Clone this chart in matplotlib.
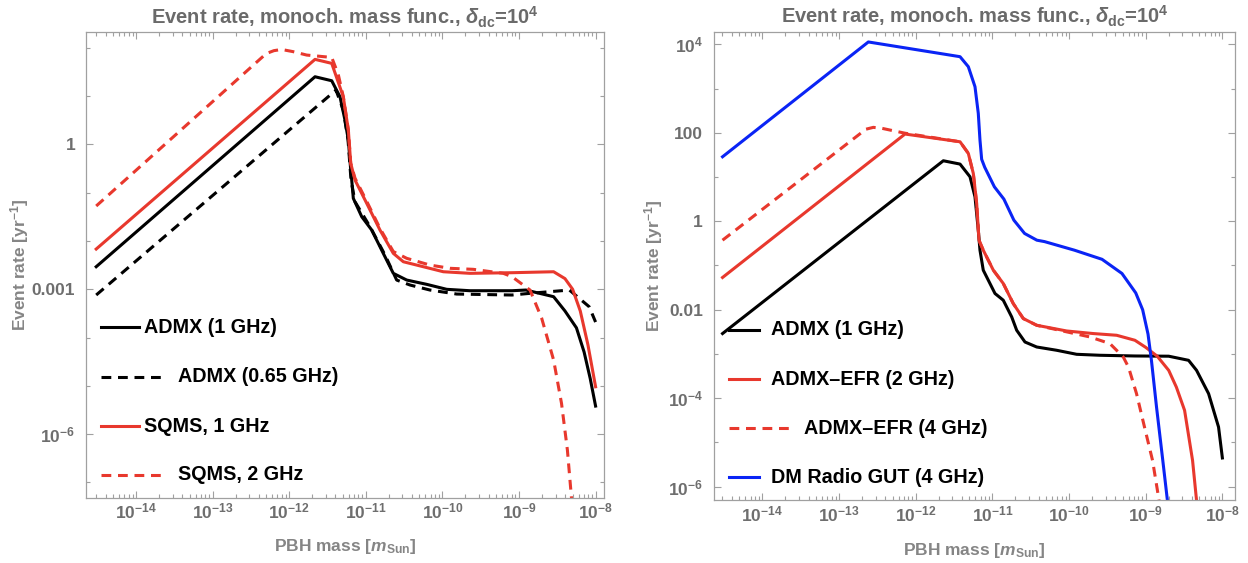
import numpy as np
import matplotlib
matplotlib.use('Agg')
import matplotlib.pyplot as plt
from matplotlib.ticker import FixedLocator, FixedFormatter, NullFormatter, LogLocator
from matplotlib.lines import Line2D

# ---------------- data (log10 of PBH mass [m_Sun] and log10 of event rate [1/yr]) ----------------
# Left panel
L_admx1_logm = [-14.52, -11.663, -11.445, -11.337, -11.272, -11.228, -11.197, -11.184, -11.163, -11.053,
                -10.923, -10.772, -10.641, -10.466, -10.205, -9.944, -9.640, -9.091, -8.910, -8.548,
                -8.40, -8.25, -8.15, -8.07, -8.0]
L_admx1_logr = [-2.534, 1.400, 1.317, 0.985, 0.503, 0.089, -0.532, -0.739, -1.118, -1.499,
                -1.774, -2.257, -2.671, -2.810, -2.899, -3.002, -3.031, -3.031, -3.017, -3.155,
                -3.45, -3.80, -4.30, -4.85, -5.42]

L_admx065_logm = [-14.52, -11.389, -11.294, -11.232, -11.193, -11.141, -10.945, -10.749, -10.597, -10.423,
                  -10.162, -9.813, -9.091, -8.856, -8.342, -8.084, -8.0]
L_admx065_logr = [-3.120, 1.124, 0.710, 0.089, -0.739, -1.188, -1.706, -2.292, -2.810, -2.913,
                  -3.017, -3.100, -3.120, -3.085, -3.017, -3.362, -3.68]

L_sqms1_logm = [-14.52, -11.663, -11.445, -11.294, -11.228, -11.197, -11.141, -10.988, -10.815, -10.641,
                -10.510, -10.250, -9.988, -9.640, -9.091, -8.548, -8.40, -8.30, -8.20, -8.10, -8.0]
L_sqms1_logr = [-2.168, 1.760, 1.677, 0.985, 0.296, -0.393, -0.739, -1.222, -1.774, -2.257,
                -2.431, -2.534, -2.638, -2.671, -2.658, -2.638, -2.78, -3.0, -3.45, -4.15, -5.02]

L_sqms2_logm = [-14.52, -12.30, -12.20, -12.10, -11.95, -11.772, -11.445, -11.36, -11.294, -11.228,
                -11.197, -11.141, -10.988, -10.815, -10.641, -10.466, -10.162, -9.901, -9.597, -9.205,
                -9.091, -8.856, -8.704, -8.548, -8.445, -8.368, -8.316, -8.29]
L_sqms2_logr = [-1.277, 1.88, 1.94, 1.965, 1.92, 1.849, 1.80, 1.45, 0.99, 0.30,
                -0.39, -0.70, -1.18, -1.74, -2.22, -2.36, -2.50, -2.567, -2.588, -2.671,
                -2.741, -3.017, -3.60, -4.466, -5.362, -6.329, -7.298, -7.8]

# Right panel
R_admx1_logm = [-14.52, -11.640, -11.422, -11.292, -11.227, -11.184, -11.162, -11.119, -10.966, -10.858,
                -10.748, -10.683, -10.575, -10.422, -10.162, -9.901, -9.597, -9.141, -8.70, -8.441,
                -8.337, -8.180, -8.050, -8.0]
R_admx1_logr = [-2.538, 1.367, 1.292, 1.005, 0.552, -0.201, -0.654, -1.106, -1.633, -1.785,
                -2.163, -2.464, -2.729, -2.842, -2.916, -3.007, -3.029, -3.045, -3.05, -3.143,
                -3.369, -3.896, -4.651, -5.35]

R_efr2_logm = [-14.52, -12.140, -11.422, -11.314, -11.249, -11.205, -11.175, -11.119, -10.988, -10.858,
               -10.728, -10.597, -10.422, -10.031, -9.685, -9.379, -9.141, -9.0, -8.85, -8.70,
               -8.60, -8.493, -8.389, -8.337, -8.30]
R_efr2_logr = [-1.271, 1.971, 1.796, 1.534, 1.081, 0.403, -0.428, -0.654, -1.106, -1.407,
               -1.860, -2.199, -2.351, -2.480, -2.538, -2.577, -2.690, -2.85, -3.05, -3.37,
               -3.75, -4.274, -5.405, -6.31, -6.9]

R_efr4_logm = [-14.52, -12.65, -12.553, -12.44, -12.335, -12.140, -11.422, -11.314, -11.249, -11.205,
               -11.175, -11.119, -10.988, -10.858, -10.728, -10.597, -10.422, -10.031, -9.728, -9.467,
               -9.293, -9.224, -9.120, -9.016, -8.911, -8.833, -8.80]
R_efr4_logr = [-0.428, 2.08, 2.122, 2.10, 2.061, 1.99, 1.796, 1.534, 1.081, 0.403,
               -0.428, -0.654, -1.106, -1.407, -1.860, -2.199, -2.351, -2.50, -2.615, -2.765,
               -3.068, -3.30, -3.896, -4.651, -5.405, -6.235, -6.6]

R_gut_logm = [-14.52, -12.618, -11.422, -11.314, -11.227, -11.184, -11.162, -11.14, -11.10, -10.974,
              -10.85, -10.72, -10.58, -10.42, -10.32, -9.93, -9.57, -9.31, -9.13, -9.04,
              -8.97, -8.925, -8.859, -8.781, -8.717, -8.69]
R_gut_logr = [1.457, 4.052, 3.719, 3.493, 3.041, 2.439, 1.835, 1.40, 1.22, 0.778,
              0.50, 0.025, -0.276, -0.428, -0.46, -0.654, -0.86, -1.18, -1.62, -2.0,
              -2.55, -3.15, -4.20, -5.35, -6.31, -6.7]

# axis ticks
x_major_exps = [-14, -13, -12, -11, -10, -9, -8]
L_ymajor = [1e-6, 1e-3, 1.0]
L_ymajor_labels = [r'$10^{-6}$', '0.001', '1']
L_yminor = [1e-7, 1e-5, 1e-4, 1e-2, 1e-1, 10.0, 100.0]
R_ymajor = [1e-6, 1e-4, 1e-2, 1.0, 100.0, 1e4]
R_ymajor_labels = [r'$10^{-6}$', r'$10^{-4}$', '0.01', '1', '100', r'$10^{4}$']
R_yminor = [1e-5, 1e-3, 1e-1, 10.0, 1000.0]

L_labels = ['ADMX (1 GHz)', 'ADMX (0.65 GHz)', 'SQMS, 1 GHz', 'SQMS, 2 GHz']
R_labels = ['ADMX (1 GHz)', 'ADMX\u2013EFR (2 GHz)', 'ADMX\u2013EFR (4 GHz)', 'DM Radio GUT (4 GHz)']

TITLE = r'Event rate, monoch. mass func., $\delta_{\mathrm{dc}}$=10$^{4}$'

# ---------------- style ----------------
plt.rcParams['font.family'] = ['Liberation Sans', 'DejaVu Sans']
plt.rcParams['font.weight'] = 'bold'
plt.rcParams['axes.labelweight'] = 'bold'
plt.rcParams['mathtext.fontset'] = 'custom'
plt.rcParams['mathtext.rm'] = 'Liberation Sans:bold'
plt.rcParams['mathtext.it'] = 'Liberation Sans:italic:bold'
plt.rcParams['mathtext.bf'] = 'Liberation Sans:bold'
plt.rcParams['mathtext.sf'] = 'Liberation Sans:bold'

RED = '#e8382d'
BLUE = '#0a24f5'
BLACK = '#000000'
FRAME = '#a0a0a0'
TICKC = '#6e6e6e'
LABC = '#858585'
LW = 2.2
DASH = (0, (3.2, 2.2))

fig = plt.figure(figsize=(12.48, 5.63), dpi=100)
axL = fig.add_axes([0.0691, 0.1160, 0.4147, 0.8266])
axR = fig.add_axes([0.5722, 0.1119, 0.4171, 0.8307])


def style(ax, xlim, ylim, ymaj, ymaj_lab, ymin, ylab_x, xlab_y):
    ax.set_xscale('log')
    ax.set_yscale('log')
    ax.set_xlim(10 ** xlim[0], 10 ** xlim[1])
    ax.set_ylim(10 ** ylim[0], 10 ** ylim[1])
    xm = [10.0 ** e for e in x_major_exps]
    ax.xaxis.set_major_locator(FixedLocator(xm))
    ax.xaxis.set_major_formatter(FixedFormatter([r'$10^{%d}$' % e for e in x_major_exps]))
    ax.xaxis.set_minor_locator(LogLocator(base=10, subs=np.arange(2, 10)))
    ax.xaxis.set_minor_formatter(NullFormatter())
    ax.yaxis.set_major_locator(FixedLocator(ymaj))
    ax.yaxis.set_major_formatter(FixedFormatter(ymaj_lab))
    ax.yaxis.set_minor_locator(FixedLocator(ymin))
    ax.yaxis.set_minor_formatter(NullFormatter())
    ax.tick_params(which='both', direction='in', top=True, right=True, color=FRAME, width=0.8,
                   labelcolor=TICKC, labelsize=12.5)
    ax.tick_params(which='major', length=5)
    ax.tick_params(which='minor', length=3)
    ax.tick_params(axis='x', pad=3)
    ax.tick_params(axis='y', pad=8)
    for s in ax.spines.values():
        s.set_color(FRAME)
        s.set_linewidth(0.9)
    ax.set_ylabel(r'Event rate [yr$^{-1}$]', color=LABC, fontsize=12.5, fontweight='bold', va='center')
    ax.yaxis.set_label_coords(ylab_x, 0.5)
    ax.set_xlabel(r'PBH mass [$m_{\mathrm{Sun}}$]', color=LABC, fontsize=12.5, fontweight='bold', va='center')
    ax.xaxis.set_label_coords(0.5, xlab_y)
    ax.text(0.5, 1.033, TITLE, transform=ax.transAxes, ha='center', va='center',
            color='#6a6a6a', fontsize=14.5, fontweight='bold')


def curve(ax, lm, lr, color, ls='-'):
    ax.plot(10.0 ** np.asarray(lm), 10.0 ** np.asarray(lr), color=color, lw=LW, ls=ls,
            solid_joinstyle='round', dash_capstyle='butt', clip_on=True)


def legend(ax, entries):
    # entries: (color, linestyle, label, y, x_end, x_text)
    for color, ls, lab, y, xe, xt in entries:
        ax.add_line(Line2D([0.028, xe], [y, y], transform=ax.transAxes, color=color, lw=LW, ls=ls,
                           dash_capstyle='butt'))
        ax.text(xt, y, lab, transform=ax.transAxes, ha='left', va='center', color='black',
                fontsize=14.2, fontweight='bold')


# left panel
style(axL, (-14.65, -7.893), (-7.317, 2.32), L_ymajor, L_ymajor_labels, L_yminor, -0.128, -0.105)
curve(axL, L_admx1_logm, L_admx1_logr, BLACK)
curve(axL, L_admx065_logm, L_admx065_logr, BLACK, DASH)
curve(axL, L_sqms1_logm, L_sqms1_logr, RED)
curve(axL, L_sqms2_logm, L_sqms2_logr, RED, DASH)
legend(axL, [(BLACK, '-', L_labels[0], 0.366, 0.101, 0.112),
             (BLACK, DASH, L_labels[1], 0.260, 0.1505, 0.177),
             (RED, '-', L_labels[2], 0.154, 0.101, 0.112),
             (RED, DASH, L_labels[3], 0.0488, 0.1505, 0.177)])

# right panel
style(axR, (-14.63, -7.84), (-6.30, 4.27), R_ymajor, R_ymajor_labels, R_yminor, -0.1155, -0.107)
curve(axR, R_admx1_logm, R_admx1_logr, BLACK)
curve(axR, R_efr2_logm, R_efr2_logr, RED)
curve(axR, R_efr4_logm, R_efr4_logr, RED, DASH)
curve(axR, R_gut_logm, R_gut_logr, BLUE)
legend(axR, [(BLACK, '-', R_labels[0], 0.3635, 0.087, 0.110),
             (RED, '-', R_labels[1], 0.258, 0.087, 0.110),
             (RED, DASH, R_labels[2], 0.153, 0.146, 0.173),
             (BLUE, '-', R_labels[3], 0.0485, 0.087, 0.110)])

fig.savefig('out.png', dpi=100)
